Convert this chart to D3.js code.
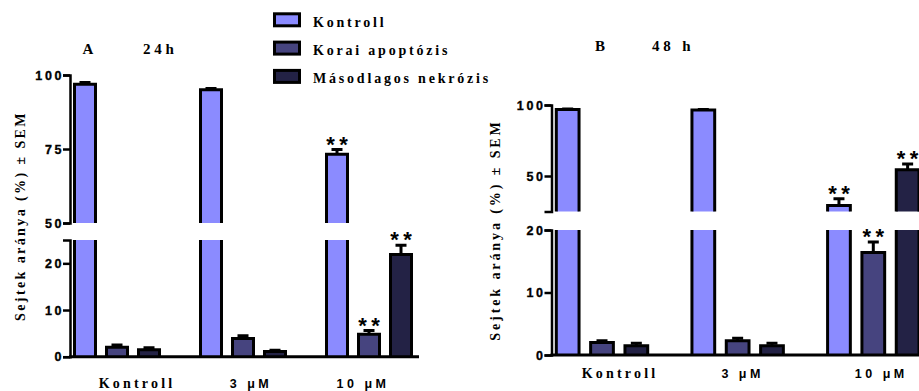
<!DOCTYPE html>
<html>
<head>
<meta charset="utf-8">
<script src="https://cdn.jsdelivr.net/npm/d3@7"></script>
<style>
  body { margin: 0; background: #fff; }
  svg { display: block; }
  .serif { font-family: "Liberation Serif", "Times New Roman", serif; font-weight: bold; }
  .sans { font-family: "Liberation Sans", Arial, sans-serif; font-weight: bold; }
</style>
</head>
<body>
<svg id="chart" width="919" height="391"></svg>
<script>
// Treatment groups and the three cell populations
const groups = ["Kontroll", "3 μM", "10 μM"];
const seriesNames = ["Kontroll", "Korai apoptózis", "Másodlagos nekrózis"];
const seriesColors = ["#8b8bff", "#46447f", "#232245"];

// 24 h: mean and SEM, rows = groups, columns = populations
const mean24 = [[96.9, 2.0, 1.5], [95.0, 3.9, 1.1], [73.2, 4.8, 21.9]];
const sem24  = [[0.6, 0.5, 0.4], [0.4, 0.6, 0.3], [1.6, 0.8, 2.0]];
const sig24  = [[false, false, false], [false, false, false], [true, true, true]];
const upperTicks24 = [50, 75, 100];
const lowerTicks24 = [0, 10, 20];

// 48 h
const mean48 = [[96.8, 2.0, 1.5], [96.5, 2.3, 1.5], [29.3, 16.4, 54.4]];
const sem48  = [[0.4, 0.3, 0.4], [0.3, 0.4, 0.4], [4.6, 1.7, 4.0]];
const sig48  = [[false, false, false], [false, false, false], [true, true, true]];
const upperTicks48 = [50, 100];
const lowerTicks48 = [0, 10, 20];

const yTitle = "Sejtek aránya (%) ± SEM";

const panels = [
  {
    letter: "A", time: "24h", mean: mean24, sem: sem24, sig: sig24,
    upperTicks: upperTicks24, lowerTicks: lowerTicks24,
    upperDomain: [50, 100], upperRange: [223, 75],
    lowerDomain: [0, 25], lowerRange: [356.7, 240],
    axisX: 70, axisEnd: 419, groupRange: [117, 369], half: 48,
    letterX: 88, timeX: 143, titleY: 54,
    yTitleX: 25, yTitleY: 216, yTitleSpacing: 2.4,
    xLabelY: 388, xLabelDx: [20, 8, -6]
  },
  {
    letter: "B", time: "48 h", mean: mean48, sem: sem48, sig: sig48,
    upperTicks: upperTicks48, lowerTicks: lowerTicks48,
    upperDomain: [25, 100], upperRange: [211.5, 105],
    lowerDomain: [0, 20], lowerRange: [355, 230],
    axisX: 551.5, axisEnd: 930, groupRange: [602, 873.3], half: 51.5,
    letterX: 600, timeX: 652, titleY: 51,
    yTitleX: 500, yTitleY: 230, yTitleSpacing: 2.9,
    xLabelY: 378, xLabelDx: [18, 5, 8]
  }
];

const svg = d3.select("#chart");

function drawPanel(p) {
  const g = svg.append("g");
  const yU = d3.scaleLinear().domain(p.upperDomain).range(p.upperRange);
  const yL = d3.scaleLinear().domain(p.lowerDomain).range(p.lowerRange);
  const x0 = d3.scalePoint().domain(groups).range(p.groupRange);
  const x1 = d3.scaleBand().domain(seriesNames).range([-p.half, p.half])
    .paddingInner(0.25).paddingOuter(0.125);
  const bw = x1.bandwidth();
  const lowerMax = p.lowerDomain[1];
  const upperMin = p.upperDomain[0];

  // bars
  groups.forEach((grp, gi) => {
    seriesNames.forEach((s, si) => {
      const v = p.mean[gi][si];
      const e = p.sem[gi][si];
      const xl = x0(grp) + x1(s) + 1.5;
      const xr = xl + bw - 3;
      const cx = (xl + xr) / 2;
      const col = seriesColors[si];
      const base = yL(0);
      let topY, scaleTop;
      if (v > lowerMax) {
        // broken bar: full lower piece, then upper piece
        const lt = yL(lowerMax);
        g.append("rect").attr("x", xl).attr("y", lt).attr("width", xr - xl)
          .attr("height", base - lt).attr("fill", col);
        g.append("path").attr("d", `M${xl},${base}V${lt}M${xr},${base}V${lt}`)
          .attr("stroke", "#000").attr("stroke-width", 3).attr("fill", "none");
        const ub = yU(upperMin);
        topY = yU(v);
        scaleTop = yU;
        g.append("rect").attr("x", xl).attr("y", topY).attr("width", xr - xl)
          .attr("height", ub - topY).attr("fill", col);
        g.append("path").attr("d", `M${xl},${ub}V${topY}H${xr}V${ub}`)
          .attr("stroke", "#000").attr("stroke-width", 3).attr("fill", "none");
      } else {
        topY = yL(v);
        scaleTop = yL;
        g.append("rect").attr("x", xl).attr("y", topY).attr("width", xr - xl)
          .attr("height", base - topY).attr("fill", col);
        g.append("path").attr("d", `M${xl},${base}V${topY}H${xr}V${base}`)
          .attr("stroke", "#000").attr("stroke-width", 3).attr("fill", "none");
      }
      // SEM error bar (upper whisker)
      const capY = scaleTop(v + e);
      g.append("path").attr("d", `M${cx},${topY}V${capY}M${cx - 5.5},${capY}H${cx + 5.5}`)
        .attr("stroke", "#000").attr("stroke-width", 3).attr("fill", "none");
      // significance marks
      if (p.sig[gi][si]) {
        [-6.5, 6.5].forEach(dx => {
          g.append("text").attr("class", "sans")
            .attr("x", cx + dx).attr("y", capY + 2)
            .attr("text-anchor", "middle").attr("font-size", 22)
            .text("*");
        });
      }
    });
  });

  // y axes (two segments)
  const styleAxis = sel => {
    sel.attr("font-family", null).attr("font-size", null);
    sel.select(".domain").attr("stroke-width", 2.5);
    sel.selectAll(".tick line").attr("stroke-width", 2.5);
    sel.selectAll(".tick text").attr("class", "sans").attr("font-size", 12.5)
      .attr("letter-spacing", 2.6).attr("fill", "#000")
      .attr("stroke", "#000").attr("stroke-width", 0.35);
  };
  g.append("g").attr("transform", `translate(${p.axisX},0)`)
    .call(d3.axisLeft(yU).tickValues(p.upperTicks).tickSize(7).tickSizeOuter(7).tickPadding(-1))
    .call(styleAxis);
  g.append("g").attr("transform", `translate(${p.axisX},0)`)
    .call(d3.axisLeft(yL).tickValues(p.lowerTicks).tickSize(7).tickSizeOuter(7).tickPadding(-1))
    .call(styleAxis);

  // x axis baseline
  g.append("line").attr("x1", p.axisX - 1).attr("x2", p.axisEnd)
    .attr("y1", yL(0)).attr("y2", yL(0))
    .attr("stroke", "#000").attr("stroke-width", 3);

  // group labels
  groups.forEach((grp, gi) => {
    g.append("text").attr("class", gi === 0 ? "serif" : "sans")
      .attr("x", x0(grp) + p.xLabelDx[gi]).attr("y", p.xLabelY)
      .attr("text-anchor", "middle")
      .attr("font-size", gi === 0 ? 14 : 12.5)
      .attr("letter-spacing", gi === 0 ? 3.2 : 3.5)
      .text(grp);
  });

  // y title
  g.append("text").attr("class", "serif")
    .attr("transform", `translate(${p.yTitleX},${p.yTitleY}) rotate(-90)`)
    .attr("text-anchor", "middle").attr("font-size", 14)
    .attr("letter-spacing", p.yTitleSpacing)
    .text(yTitle);

  // panel title
  g.append("text").attr("class", "serif").attr("x", p.letterX).attr("y", p.titleY)
    .attr("text-anchor", "middle").attr("font-size", 15).text(p.letter);
  g.append("text").attr("class", "serif").attr("x", p.timeX).attr("y", p.titleY)
    .attr("font-size", 15).attr("letter-spacing", 3.8).text(p.time);
}

panels.forEach(drawPanel);

// legend
const legend = svg.append("g").attr("transform", "translate(274.5,13.8)");
seriesNames.forEach((s, i) => {
  const row = legend.append("g").attr("transform", `translate(0,${i * 28.3})`);
  row.append("rect").attr("width", 25).attr("height", 12)
    .attr("fill", seriesColors[i]).attr("stroke", "#000").attr("stroke-width", 3);
  row.append("text").attr("class", "serif").attr("x", 38.5).attr("y", 12.8)
    .attr("font-size", 14).attr("letter-spacing", 2.8).text(s);
});
</script>
</body>
</html>
